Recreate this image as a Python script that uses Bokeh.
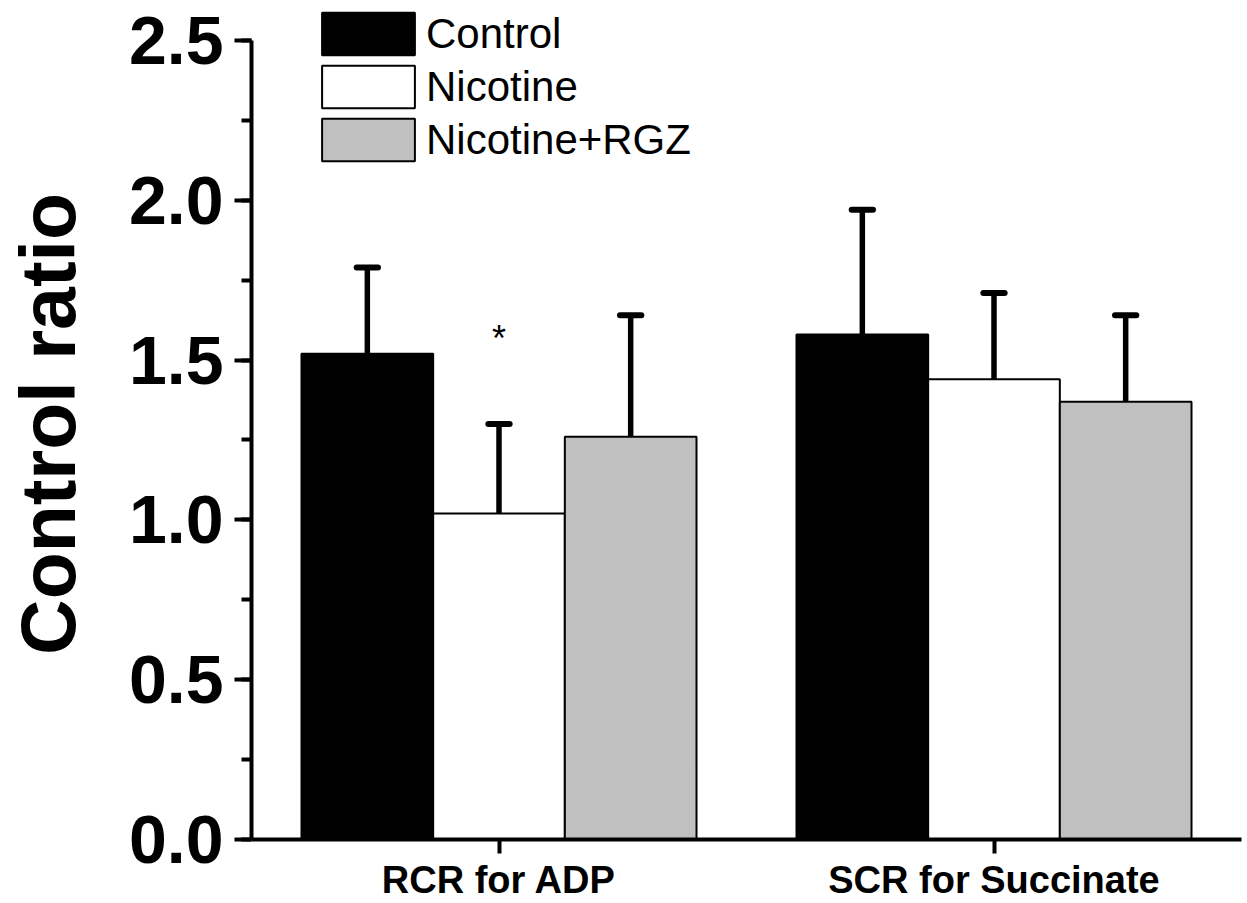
from bokeh.plotting import figure
from bokeh.models import (ColumnDataSource, FactorRange, Range1d, Legend, LegendItem,
                          SingleIntervalTicker, PrintfTickFormatter)
from bokeh.transform import dodge
from bokeh.core.properties import value
from bokeh.embed import file_html
from bokeh.resources import INLINE

# ---------------- data ----------------
categories = ["RCR for ADP", "SCR for Succinate"]
groups = ["Control", "Nicotine", "Nicotine+RGZ"]
control_mean = [1.52, 1.58]
control_err = [0.27, 0.39]
nicotine_mean = [1.02, 1.44]
nicotine_err = [0.28, 0.27]
rgz_mean = [1.26, 1.37]
rgz_err = [0.38, 0.27]
group_fills = ["#000000", "#ffffff", "#c0c0c0"]
sig_category = ["RCR for ADP"]
sig_y = [1.566]
sig_text = ["*"]

FONT = "Liberation Sans"
BAR_W = 0.266
CAP_HALF = 0.0215
offsets = [-BAR_W, 0.0, BAR_W]

p = figure(x_range=FactorRange(factors=categories, range_padding=0),
           y_range=Range1d(0, 2.6),
           width=1245, height=903,
           min_border_left=251, min_border_right=4, min_border_top=8, min_border_bottom=0,
           output_backend="svg", toolbar_location=None)

p.xgrid.visible = False
p.ygrid.visible = False
p.outline_line_color = None
p.background_fill_color = "white"

means = [control_mean, nicotine_mean, rgz_mean]
errs = [control_err, nicotine_err, rgz_err]
items = []
for name, m, e, fill, off in zip(groups, means, errs, group_fills, offsets):
    src = ColumnDataSource(dict(cat=categories, mean=m,
                                top=[a + b for a, b in zip(m, e)]))
    r = p.vbar(x=dodge("cat", off, range=p.x_range), top="mean", bottom=0,
               width=BAR_W, fill_color=fill, line_color="black", line_width=2,
               source=src)
    p.segment(x0=dodge("cat", off, range=p.x_range), y0="mean",
              x1=dodge("cat", off, range=p.x_range), y1="top",
              line_color="black", line_width=5.5, source=src)
    p.segment(x0=dodge("cat", off - CAP_HALF, range=p.x_range), y0="top",
              x1=dodge("cat", off + CAP_HALF, range=p.x_range), y1="top",
              line_color="black", line_width=6, line_cap="round", source=src)
    items.append(LegendItem(label=name, renderers=[r]))

sig_src = ColumnDataSource(dict(cat=sig_category, y=sig_y, t=sig_text))
p.text(x="cat", y="y", text="t", source=sig_src, text_align="center",
       text_baseline="alphabetic", text_font=value(FONT), text_font_size="36px",
       text_color="black")

legend = Legend(items=items, location=(59, 673), glyph_width=116, glyph_height=53,
                spacing=0, padding=0, margin=0, label_standoff=0,
                label_text_font=FONT, label_text_font_size="42px",
                label_text_color="black",
                label_height=53, border_line_color=None, background_fill_alpha=0)
p.add_layout(legend)

# y axis
ya = p.yaxis[0]
ya.ticker = SingleIntervalTicker(interval=0.5, num_minor_ticks=2)
ya.formatter = PrintfTickFormatter(format="%.1f")
ya.bounds = (0, 2.5)
ya.axis_line_width = 4
ya.major_tick_line_width = 4
ya.minor_tick_line_width = 4
ya.major_tick_out = 17
ya.major_tick_in = 0
ya.minor_tick_out = 10
ya.minor_tick_in = 0
ya.major_label_standoff = 11
ya.major_label_text_font = FONT
ya.major_label_text_font_style = "bold"
ya.major_label_text_font_size = "68px"
ya.major_label_text_color = "black"
ya.axis_label = "Control ratio"
ya.axis_label_text_font = FONT
ya.axis_label_text_font_style = "bold"
ya.axis_label_text_font_size = "77px"
ya.axis_label_text_color = "black"
ya.axis_label_standoff = 35

# x axis
xa = p.xaxis[0]
xa.axis_line_width = 4
xa.major_tick_line_width = 4
xa.major_tick_out = 14
xa.major_tick_in = 0
xa.minor_tick_line_color = None
xa.major_label_standoff = 5
xa.major_label_text_font = FONT
xa.major_label_text_font_style = "bold"
xa.major_label_text_font_size = "38px"
xa.major_label_text_color = "black"

open("out.html", "w").write(file_html(p, INLINE))
